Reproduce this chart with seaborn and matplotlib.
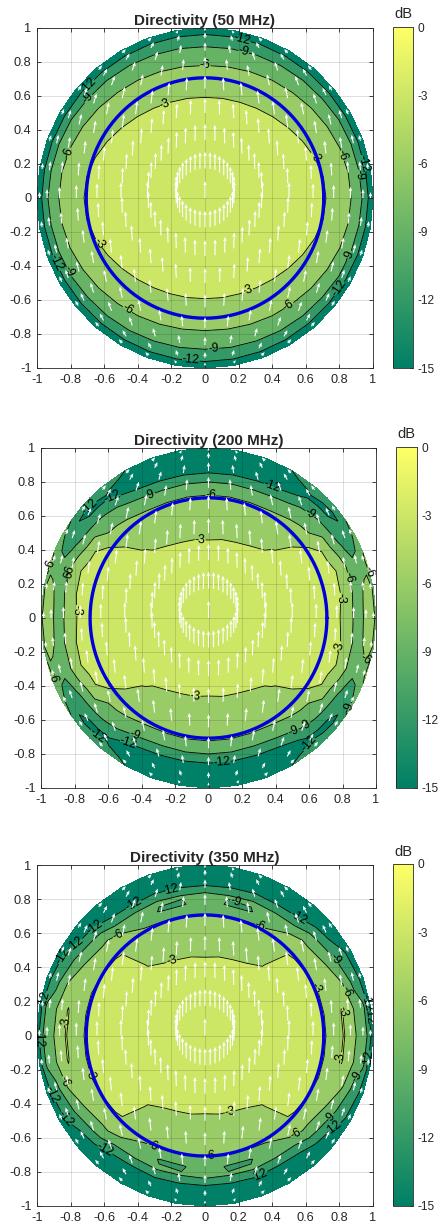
import numpy as np
import matplotlib
matplotlib.use("Agg")
import matplotlib.pyplot as plt
import seaborn as sns
from matplotlib.cm import ScalarMappable
from matplotlib.colors import Normalize

sns.set_style("white")
plt.rcParams['font.family'] = ['Liberation Sans', 'DejaVu Sans']
plt.rcParams['axes.unicode_minus'] = False
plt.rcParams['contour.negative_linestyle'] = 'solid'

W, H = 438, 1226
TITLES = ["Directivity (50 MHz)", "Directivity (200 MHz)", "Directivity (350 MHz)"]
LEVELS = [-12, -9, -6, -3]
COLOR_AT = [-15, -12, -9, -6, -3]
TICKS = [-1, -0.8, -0.6, -0.4, -0.2, 0, 0.2, 0.4, 0.6, 0.8, 1]
CBAR_TICKS = [-15, -12, -9, -6, -3, 0]
HPBW_RADIUS = 0.707
ARROW_RINGS = [0.0, 0.174, 0.342, 0.5, 0.643, 0.766, 0.866, 0.94, 0.985]
ARROWS_PER_RING = 36

# Panel 1: radii of each contour, by angle from +x (first quadrant, mirrored)
PHI1 = [0, 10, 20, 30, 40, 50, 60, 70, 80, 90]
R3_1 = [.72, .715, .695, .67, .645, .625, .61, .60, .595, .592]
R6_1 = [.87, .865, .855, .84, .825, .81, .80, .79, .783, .78]
R9_1 = [.935, .93, .925, .92, .91, .905, .90, .895, .892, .89]
R12_1 = [.972, .97, .968, .965, .963, .962, .962, .962, .962, .962]

# Panels 2 and 3: dB read at radial knots (rows: angle, columns: radius)
KNOTS = [0, .30, .45, .55, .65, .72, .78, .83, .87, .90, .93, .96, .98, 1.0]
PHI2 = [0, 10, 20, 25, 30, 35, 40, 45, 50, 60, 70, 80, 90]
DB2 = [
    [-1, -1.5, -1.8, -2, -2.3, -2.5, -2.8, -4.5, -6.3, -7.4, -5.7, -4.5, -5, -6.5],
    [-1, -1.5, -1.8, -2, -2.3, -2.5, -2.7, -3.4, -5.9, -7.6, -6.3, -4.8, -5.2, -6.5],
    [-1, -1.5, -1.8, -2, -2.3, -2.5, -2.7, -3.2, -5.7, -7.5, -8.2, -8, -6.8, -5.5],
    [-1, -1.5, -1.85, -2.1, -2.4, -2.6, -2.85, -4.2, -6.8, -8.3, -9.8, -9.2, -8, -6.5],
    [-1, -1.5, -1.9, -2.2, -2.5, -2.7, -3, -5.5, -8.2, -9.3, -11.5, -10.5, -9.5, -8],
    [-1, -1.5, -1.95, -2.3, -2.6, -2.95, -3.6, -6, -8.5, -9.8, -11.8, -11.8, -10.5, -9],
    [-1, -1.6, -2, -2.4, -3, -4.5, -6, -7.5, -8.7, -10.5, -12, -12.5, -11, -9.5],
    [-1, -1.65, -2.2, -2.85, -3.9, -4.9, -6.2, -7.8, -9.2, -11, -12.1, -12, -11, -9.8],
    [-1, -1.7, -2.5, -3.2, -4.5, -5.4, -6.4, -8, -10, -11.5, -12.2, -11.8, -11, -10],
    [-1, -1.9, -2.6, -3.6, -4.8, -5.8, -7, -10, -12, -13, -14, -13, -12.5, -12],
    [-1, -1.9, -2.75, -3.8, -5, -5.9, -8, -10.5, -12.7, -15, -16, -16, -16, -16],
    [-1, -2, -2.8, -3.9, -5.1, -5.9, -8, -10.5, -13, -15, -16, -16, -16, -16],
    [-1, -2, -2.9, -4, -5.2, -5.9, -8, -10.5, -13, -15, -16, -16, -16, -16],
]
PHI3 = [0, 10, 20, 30, 40, 44, 50, 60, 70, 80, 90]
DB3 = [
    [-1, -1.5, -1.8, -2, -2.4, -3, -3.6, -2.9, -4.7, -6, -8, -8.5, -10.5, -14],
    [-1, -1.5, -1.8, -2, -2.4, -3, -3.5, -2.9, -4.8, -6.1, -8, -8.8, -11, -14],
    [-1, -1.5, -1.8, -2, -2.4, -3, -3.4, -3.6, -5.7, -7.8, -9.5, -10, -12.5, -15],
    [-1, -1.5, -1.9, -2.2, -2.5, -3.1, -4, -6, -7.8, -9.2, -10.5, -11.5, -13, -15],
    [-1, -1.6, -2, -2.3, -2.6, -3.2, -5.2, -6.9, -9, -10.5, -12.5, -14, -14, -14],
    [-1, -1.6, -2, -2.3, -2.7, -3.3, -5.2, -6.8, -9.4, -11, -13, -14.5, -14.5, -14.5],
    [-1, -1.7, -2.6, -3.1, -4.3, -5.2, -6, -8.6, -10.8, -12.5, -14, -14.5, -13, -12],
    [-1, -1.9, -2.6, -3.6, -4.9, -5.9, -7, -8.9, -11.5, -13, -14, -14, -13, -13],
    [-1, -1.9, -2.75, -3.8, -5, -6.1, -9.3, -8.6, -11, -13, -15, -16, -16, -16],
    [-1, -2, -2.8, -3.9, -5.1, -6.1, -9.3, -8.8, -11.5, -13, -16, -16, -16, -16],
    [-1, -2, -2.9, -4, -5.2, -6.2, -7.5, -8.5, -11, -14, -16, -16, -16, -16],
]

# Contour-label positions
LABELS1 = [(.22, .93), (.23, .86), (0, .78), (-.24, .557), (-.71, .675), (-.71, .6), (-.82, .27),
           (.65, .24), (.82, .25), (.93, .2), (.91, .135), (-.65, -.28), (-.88, -.38), (-.82, -.44),
           (-.47, -.67), (.26, -.56), (.51, -.65), (.87, -.345), (.81, -.54), (.05, -.894), (-.085, -.96)]
LABELS2 = [(-.05, .45), (-.08, -.46), (-.80, .045), (-.82, .245), (-.885, .29), (-.94, .31), (-.36, .75),
           (-.57, .69), (.38, .78), (.014, .725), (.61, .62), (.83, .235), (.79, .117), (.79, -.17),
           (.91, -.26), (.95, .265), (.84, -.53), (.56, -.6), (.51, -.675), (.64, -.76), (.08, -.847),
           (-.43, -.665), (-.47, -.71), (-.68, -.72), (-.92, -.35), (-.72, .665)]
LABELS3 = [(-.2, .44), (.15, -.45), (-.83, .08), (.83, .14), (.81, -.13), (-.68, -.225), (.65, .27),
           (-.53, .61), (.33, .65), (.83, .255), (.89, -.235), (.545, -.59), (-.32, -.66), (-.85, -.275),
           (-.415, .75), (.18, .78), (.78, .45), (.74, -.48), (.03, -.755), (-.2, .84), (.57, .71),
           (.32, -.81), (.78, -.56), (-.59, -.66), (-.7, .7), (-.79, .56), (-.82, .45), (.97, .196),
           (.98, .12), (.97, -.137), (-.985, -.02), (-.97, .215), (-.83, -.49), (-.92, -.35)]

# Axes and colorbar boxes in pixels: left, top, right, bottom
AX_BOX = [(37, 28, 373, 368), (41, 448, 376, 788), (37, 865, 373, 1206)]
CB_BOX = [(393, 27, 413, 368), (396, 447, 417, 788), (393, 864, 413, 1206)]
DB_XY = [(403, 14), (406, 434), (403, 852)]

cmap = sns.color_palette("summer", as_cmap=True)
fill_colors = [cmap((v + 15) / 15) for v in COLOR_AT]
INK = "#262626"


def mirror(phi, rows):
    phi = np.radians(np.asarray(phi, float))
    rows = np.asarray(rows, float)
    p = np.concatenate([phi, np.pi - phi[-2::-1], np.pi + phi[1:], 2 * np.pi - phi[-2::-1]])
    z = np.concatenate([rows, rows[-2::-1], rows[1:], rows[-2::-1]])
    return p, z


def box(b):
    l, t, r, bt = b
    return [l / W, 1 - bt / H, (r - l) / W, (bt - t) / H]


panel1_r = np.column_stack([np.zeros(len(PHI1)), R3_1, R6_1, R9_1, R12_1, np.ones(len(PHI1))])
panel1_z = np.tile([-1.0, -3, -6, -9, -12, -15], (len(PHI1), 1))
knot_r2 = np.tile(KNOTS, (len(PHI2), 1))
knot_r3 = np.tile(KNOTS, (len(PHI3), 1))
fields = [(PHI1, panel1_r, panel1_z), (PHI2, knot_r2, DB2), (PHI3, knot_r3, DB3)]
label_sets = [LABELS1, LABELS2, LABELS3]

# Arrow tails on rings; each arrow is a y-polarised far field (theta/phi parts) seen from above
ring_r, ring_p = [], []
for rr in ARROW_RINGS:
    n = 1 if rr == 0 else ARROWS_PER_RING
    for k in range(n):
        ring_r.append(rr)
        ring_p.append(2 * np.pi * k / ARROWS_PER_RING)
ring_r, ring_p = np.array(ring_r), np.array(ring_p)
au, av = ring_r * np.cos(ring_p), ring_r * np.sin(ring_p)
cos_t = np.sqrt(1 - ring_r ** 2)
sp, cp = np.sin(ring_p), np.cos(ring_p)
shrink = cos_t ** (0.6 * np.abs(cp))
du = (sp * cos_t * cp - cp * sp) * shrink
dv = (sp * cos_t * sp + cp * cp) * shrink

circle_t = np.radians(np.arange(0, 361, 3))
label_text = {lv: f"{lv}" for lv in LEVELS}

fig = plt.figure(figsize=(W / 100, H / 100), dpi=100)
for i in range(3):
    ax = fig.add_axes(box(AX_BOX[i]))
    phi, rr, zz = fields[i]
    p, r_full = mirror(phi, rr)
    _, z_full = mirror(phi, zz)
    X = r_full * np.cos(p)[:, None]
    Y = r_full * np.sin(p)[:, None]
    ax.contourf(X, Y, z_full, levels=[-100] + LEVELS + [5], colors=fill_colors, zorder=1)
    cs = ax.contour(X, Y, z_full, levels=LEVELS, colors="black", linewidths=0.6, zorder=2)
    ax.clabel(cs, manual=label_sets[i], fmt=label_text, fontsize=8.8, colors="black", inline=True, inline_spacing=0)
    sns.lineplot(x=HPBW_RADIUS * np.cos(circle_t), y=HPBW_RADIUS * np.sin(circle_t), sort=False,
                 estimator=None, color="#0000dd", linewidth=2.4, ax=ax, zorder=4, legend=False)
    ax.quiver(au, av, du, dv, angles="xy", scale_units="xy", scale=10, color="white",
              units="dots", width=1.1, headwidth=3.4, headlength=4, headaxislength=3.4,
              minlength=0, zorder=5)
    ax.set_xlim(-1, 1)
    ax.set_ylim(-1, 1)
    ax.set_xlabel("")
    ax.set_ylabel("")
    ax.set_xticks(TICKS, [f"{t:g}" for t in TICKS])
    ax.set_yticks(TICKS, [f"{t:g}" for t in TICKS])
    ax.set_axisbelow(False)
    ax.grid(True, color="black", alpha=0.13, linewidth=0.7)
    ax.tick_params(direction="in", length=3, width=0.6, top=True, right=True, bottom=True, left=True,
                   labelsize=9.2, colors=INK, pad=4)
    for s in ax.spines.values():
        s.set_color(INK)
        s.set_linewidth(0.6)
        s.set_visible(True)
    ax.set_title(TITLES[i], fontsize=11, fontweight="bold", color=INK, pad=2)

    cax = fig.add_axes(box(CB_BOX[i]))
    cb = fig.colorbar(ScalarMappable(Normalize(-15, 0), cmap), cax=cax)
    cb.set_ticks(CBAR_TICKS, labels=[f"{t}" for t in CBAR_TICKS])
    cax.tick_params(direction="in", length=2.5, width=0.6, labelsize=8.6, colors=INK, pad=3, right=True)
    cb.outline.set_edgecolor(INK)
    cb.outline.set_linewidth(0.6)
    fig.text(DB_XY[i][0] / W, 1 - DB_XY[i][1] / H, "dB", ha="center", va="center", fontsize=10.5, color=INK)

fig.savefig("out.png", dpi=100)
